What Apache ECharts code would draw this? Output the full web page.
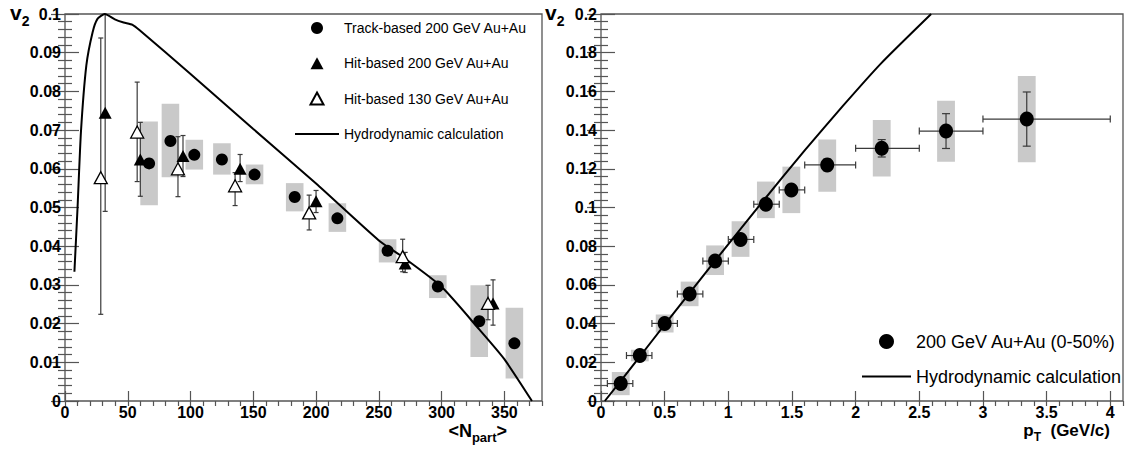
<!DOCTYPE html>
<html>
<head>
<meta charset="utf-8">
<script src="https://cdn.jsdelivr.net/npm/echarts@6/dist/echarts.min.js"></script>
<style>
  html, body { margin: 0; padding: 0; background: #fff; }
  #chart { width: 1127px; height: 449px; }
</style>
</head>
<body>
<div id="chart"></div>
<script>
// ---- Centrality dependence of v2 (left panel) ----
const trackNpart    = [67, 84, 103, 125, 151, 183, 217, 257, 297, 330, 358];
const trackV2       = [0.0614, 0.0672, 0.0636, 0.0624, 0.0585, 0.0527, 0.0472, 0.0388, 0.0296, 0.0206, 0.0149];
const trackSysLow   = [0.0506, 0.0578, 0.0598, 0.0585, 0.0560, 0.0490, 0.0437, 0.0358, 0.0266, 0.0114, 0.0058];
const trackSysHigh  = [0.0722, 0.0768, 0.0675, 0.0666, 0.0611, 0.0563, 0.0511, 0.0418, 0.0325, 0.0299, 0.0241];

const hit200Npart   = [32, 60, 94, 139.5, 200, 271, 341];
const hit200V2      = [0.0745, 0.0624, 0.0633, 0.0600, 0.0516, 0.0355, 0.0252];
const hit200ErrLow  = [0.0490, 0.0529, 0.0580, 0.0567, 0.0487, 0.0332, 0.0196];
const hit200ErrHigh = [0.1000, 0.0720, 0.0686, 0.0637, 0.0544, 0.0384, 0.0313];

const hit130Npart   = [28.5, 57.5, 90, 135.5, 194.5, 269, 337];
const hit130V2      = [0.0577, 0.0695, 0.0600, 0.0556, 0.0486, 0.0373, 0.0252];
const hit130ErrLow  = [0.0224, 0.0567, 0.0528, 0.0505, 0.0442, 0.0334, 0.0210];
const hit130ErrHigh = [0.0938, 0.0824, 0.0683, 0.0590, 0.0532, 0.0418, 0.0299];

const hydroNpart    = [7.5, 10, 12.7, 17, 22, 26, 31.7, 39.7, 46.7, 53.8, 59.5, 100, 150, 200, 250, 270, 300, 330, 350, 372];
const hydroNpartV2  = [0.0334, 0.0500, 0.0695, 0.0867, 0.0953, 0.0988, 0.1000, 0.0986, 0.0978, 0.0972, 0.0958, 0.0845, 0.0703, 0.0562, 0.0415, 0.0370, 0.0295, 0.0185, 0.0108, 0.0];

// ---- pT dependence of v2, 0-50% (right panel) ----
const ptCenter   = [0.155, 0.305, 0.5, 0.696, 0.896, 1.096, 1.295, 1.495, 1.777, 2.205, 2.71, 3.344];
const ptLow      = [0.05, 0.2, 0.4, 0.6, 0.8, 1.0, 1.2, 1.4, 1.6, 2.0, 2.5, 3.0];
const ptHigh     = [0.25, 0.4, 0.6, 0.8, 1.0, 1.2, 1.4, 1.6, 2.0, 2.5, 3.0, 4.0];
const ptV2       = [0.0090, 0.0235, 0.0401, 0.0553, 0.0723, 0.0835, 0.1017, 0.1091, 0.1220, 0.1306, 0.1395, 0.1457];
const ptErr      = [0.001, 0.001, 0.001, 0.0012, 0.0015, 0.0018, 0.002, 0.0025, 0.003, 0.0045, 0.009, 0.014];
const ptSysLow   = [0.0030, 0.0205, 0.0354, 0.0490, 0.0651, 0.0745, 0.0945, 0.0971, 0.1082, 0.1160, 0.1237, 0.1234];
const ptSysHigh  = [0.0150, 0.0265, 0.0447, 0.0617, 0.0804, 0.0929, 0.1134, 0.1211, 0.1352, 0.1452, 0.1552, 0.1680];

const hydroPt    = [0.03, 0.3, 0.5, 0.9, 1.25, 1.6, 1.9, 2.2, 2.593];
const hydroPtV2  = [0.0, 0.0225, 0.0395, 0.0728, 0.1015, 0.1295, 0.1525, 0.1745, 0.2];

// Axis ticks
const npartTicks = { min: 0, max: 380, major: 50, minor: 10 };
const ptTicks    = { min: 0, max: 4.1, major: 0.5, minor: 0.1 };

// Legend labels
const leftNames  = ['Track-based 200 GeV Au+Au', 'Hit-based 200 GeV Au+Au', 'Hit-based 130 GeV Au+Au', 'Hydrodynamic calculation'];
const rightNames = ['200 GeV Au+Au (0-50%)', 'Hydrodynamic calculation'];

// ---- styling ----
const FONT = '"Liberation Sans", Arial, Helvetica, sans-serif';
const FRAME = '#555';
const BOX = '#c9c9c9';
const ERR = '#3a3a3a';
const NPART_BOX_HALF = 7;
const PT_BOX_HALF = 0.07;
const LINE_ICON_L = 'path://M0,0H44V2H0Z';
const LINE_ICON_R = 'path://M0,0H49V2H0Z';
const TRIANGLE_ICON = 'path://M6.5,0L13,12H0Z';

const zip = (...cols) => cols[0].map((_, i) => cols.map(c => c[i]));

function boxRender(half) {
  return function (params, api) {
    const x = api.value(0), lo = api.value(1), hi = api.value(2);
    const a = api.coord([x - half, hi]);
    const b = api.coord([x + half, lo]);
    return { type: 'rect', shape: { x: a[0], y: a[1], width: b[0] - a[0], height: b[1] - a[1] },
             style: { fill: BOX } };
  };
}

function vErrRender(cap) {
  return function (params, api) {
    const x = api.value(0), lo = api.value(1), hi = api.value(2);
    const a = api.coord([x, lo]), b = api.coord([x, hi]);
    const st = { stroke: ERR, lineWidth: 1.2 };
    return { type: 'group', children: [
      { type: 'line', shape: { x1: a[0], y1: a[1], x2: b[0], y2: b[1] }, style: st },
      { type: 'line', shape: { x1: a[0] - cap, y1: a[1], x2: a[0] + cap, y2: a[1] }, style: st },
      { type: 'line', shape: { x1: b[0] - cap, y1: b[1], x2: b[0] + cap, y2: b[1] }, style: st }
    ] };
  };
}

function xyErrRender(capX, capY) {
  return function (params, api) {
    const x = api.value(0), y = api.value(1);
    const xl = api.value(2), xh = api.value(3), yl = api.value(4), yh = api.value(5);
    const L = api.coord([xl, y]), R = api.coord([xh, y]);
    const B = api.coord([x, yl]), T = api.coord([x, yh]);
    const st = { stroke: ERR, lineWidth: 1.2 };
    return { type: 'group', children: [
      { type: 'line', shape: { x1: L[0], y1: L[1], x2: R[0], y2: R[1] }, style: st },
      { type: 'line', shape: { x1: L[0], y1: L[1] - capX, x2: L[0], y2: L[1] + capX }, style: st },
      { type: 'line', shape: { x1: R[0], y1: R[1] - capX, x2: R[0], y2: R[1] + capX }, style: st },
      { type: 'line', shape: { x1: B[0], y1: B[1], x2: T[0], y2: T[1] }, style: st },
      { type: 'line', shape: { x1: B[0] - capY, y1: B[1], x2: B[0] + capY, y2: B[1] }, style: st },
      { type: 'line', shape: { x1: T[0] - capY, y1: T[1], x2: T[0] + capY, y2: T[1] }, style: st }
    ] };
  };
}

const labelStyle = { color: '#000', fontSize: 16, lineHeight: 16, fontWeight: 'bold', fontFamily: FONT };

function majorX(grid, t) {
  return {
    type: 'value', gridIndex: grid, min: t.min, max: t.max, interval: t.major,
    axisLine: { show: false }, splitLine: { show: false },
    axisTick: { show: true, inside: true, length: 10, lineStyle: { color: FRAME, width: 1.2 } },
    axisLabel: Object.assign({ margin: 3, showMaxLabel: false }, labelStyle)
  };
}
function minorX(grid, t) {
  return {
    type: 'value', gridIndex: grid, min: t.min, max: t.max, interval: t.minor,
    axisLine: { show: false }, splitLine: { show: false }, axisLabel: { show: false },
    axisTick: { show: true, inside: true, length: 5, lineStyle: { color: FRAME, width: 1.2 } }
  };
}
function yAxis(grid, max, interval, position, labels) {
  return {
    type: 'value', gridIndex: grid, position: position, min: 0, max: max, interval: interval,
    axisLine: { show: false }, splitLine: { show: false },
    axisTick: { show: true, inside: true, length: 14, lineStyle: { color: FRAME, width: 1.2 } },
    minorTick: { show: true, splitNumber: 5, length: 7, lineStyle: { color: FRAME, width: 1.2 } },
    axisLabel: labels ? Object.assign({ margin: 4 }, labelStyle) : { show: false }
  };
}

// Bold axis titles with a lowered subscript
const richTitle = (big, small, drop) => ({
  m: { fontSize: big, lineHeight: big, fontWeight: 'bold', fontFamily: FONT, color: '#000',
       verticalAlign: 'bottom', padding: [0, 0, drop, 0] },
  s: { fontSize: small, lineHeight: small, fontWeight: 'bold', fontFamily: FONT, color: '#000', verticalAlign: 'bottom' }
});

const option = {
  animation: false,
  backgroundColor: '#fff',
  grid: [
    { left: 65, top: 14, width: 477, height: 387, show: true, borderColor: FRAME, borderWidth: 1.3, outerBoundsMode: 'none', containLabel: false },
    { left: 601, top: 14, width: 522, height: 387, show: true, borderColor: FRAME, borderWidth: 1.3, outerBoundsMode: 'none', containLabel: false }
  ],
  xAxis: [ majorX(0, npartTicks), minorX(0, npartTicks), majorX(1, ptTicks), minorX(1, ptTicks) ],
  yAxis: [ yAxis(0, 0.1, 0.01, 'left', true), yAxis(0, 0.1, 0.01, 'right', false),
           yAxis(1, 0.2, 0.02, 'left', true), yAxis(1, 0.2, 0.02, 'right', false) ],
  title: [
    { text: '{m|v}{s|2}', left: 10, top: 7, padding: 0, textStyle: { rich: richTitle(21, 14, 5) } },
    { text: '{m|v}{s|2}', left: 545, top: 7, padding: 0, textStyle: { rich: richTitle(21, 14, 5) } },
    { text: '{m|<N}{s|part}{m|>}', right: 620, top: 426, padding: 0, textStyle: { rich: richTitle(18, 13, 4) } },
    { text: '{m|p}{s|T}{m|  (GeV/c)}', right: 17, top: 426, padding: 0, textStyle: { rich: richTitle(17, 12, 4) } }
  ],
  legend: [
    { data: [
        { name: leftNames[0], icon: 'circle' },
        { name: leftNames[1], icon: TRIANGLE_ICON },
        { name: leftNames[2], icon: TRIANGLE_ICON },
        { name: leftNames[3], icon: LINE_ICON_L }
      ],
      orient: 'vertical', left: 290, top: 16, itemWidth: 44, itemHeight: 12, itemGap: 21.3,
      symbolKeepAspect: true, selectedMode: false,
      textStyle: { fontSize: 14, lineHeight: 12, fontFamily: FONT, color: '#000', padding: 0 } },
    { data: [
        { name: rightNames[0], icon: 'circle' },
        { name: rightNames[1], icon: LINE_ICON_R }
      ],
      orient: 'vertical', left: 857, top: 327.5, itemWidth: 49, itemHeight: 15, itemGap: 17,
      symbolKeepAspect: true, selectedMode: false,
      textStyle: { fontSize: 18, lineHeight: 15, fontFamily: FONT, color: '#000', padding: 0 } }
  ],
  series: [
    { type: 'custom', xAxisIndex: 0, yAxisIndex: 0, z: 1, clip: true, silent: true,
      renderItem: boxRender(NPART_BOX_HALF), data: zip(trackNpart, trackSysLow, trackSysHigh) },
    { type: 'custom', xAxisIndex: 0, yAxisIndex: 0, z: 2, clip: true, silent: true,
      renderItem: vErrRender(2.5), data: zip(hit200Npart, hit200ErrLow, hit200ErrHigh) },
    { type: 'custom', xAxisIndex: 0, yAxisIndex: 0, z: 2, clip: true, silent: true,
      renderItem: vErrRender(2.5), data: zip(hit130Npart, hit130ErrLow, hit130ErrHigh) },
    { name: leftNames[3], type: 'line', xAxisIndex: 0, yAxisIndex: 0, z: 3, symbol: 'none', smooth: 0.2,
      lineStyle: { color: '#000', width: 2 }, itemStyle: { color: '#000' }, data: zip(hydroNpart, hydroNpartV2) },
    { name: leftNames[0], type: 'scatter', xAxisIndex: 0, yAxisIndex: 0, z: 4, symbol: 'circle', symbolSize: 12,
      itemStyle: { color: '#000', opacity: 1 }, data: zip(trackNpart, trackV2) },
    { name: leftNames[1], type: 'scatter', xAxisIndex: 0, yAxisIndex: 0, z: 4, symbol: 'triangle', symbolSize: [13, 12],
      itemStyle: { color: '#000', opacity: 1 }, data: zip(hit200Npart, hit200V2) },
    { name: leftNames[2], type: 'scatter', xAxisIndex: 0, yAxisIndex: 0, z: 5, symbol: 'triangle', symbolSize: [13, 12],
      itemStyle: { color: '#fff', borderColor: '#000', borderWidth: 1.3, opacity: 1 }, data: zip(hit130Npart, hit130V2) },

    { type: 'custom', xAxisIndex: 2, yAxisIndex: 2, z: 1, clip: true, silent: true,
      renderItem: boxRender(PT_BOX_HALF), data: zip(ptCenter, ptSysLow, ptSysHigh) },
    { type: 'custom', xAxisIndex: 2, yAxisIndex: 2, z: 2, clip: true, silent: true,
      renderItem: xyErrRender(3.5, 4),
      data: ptCenter.map((x, i) => [x, ptV2[i], ptLow[i], ptHigh[i], ptV2[i] - ptErr[i], ptV2[i] + ptErr[i]]) },
    { name: rightNames[1], type: 'line', xAxisIndex: 2, yAxisIndex: 2, z: 3, symbol: 'none', smooth: 0.2,
      lineStyle: { color: '#000', width: 2 }, itemStyle: { color: '#000' }, data: zip(hydroPt, hydroPtV2) },
    { name: rightNames[0], type: 'scatter', xAxisIndex: 2, yAxisIndex: 2, z: 4, symbol: 'circle', symbolSize: [14, 15],
      itemStyle: { color: '#000', opacity: 1 }, data: zip(ptCenter, ptV2) }
  ]
};

const chart = echarts.init(document.getElementById('chart'), null, { renderer: 'svg' });
chart.setOption(option);
</script>
</body>
</html>
